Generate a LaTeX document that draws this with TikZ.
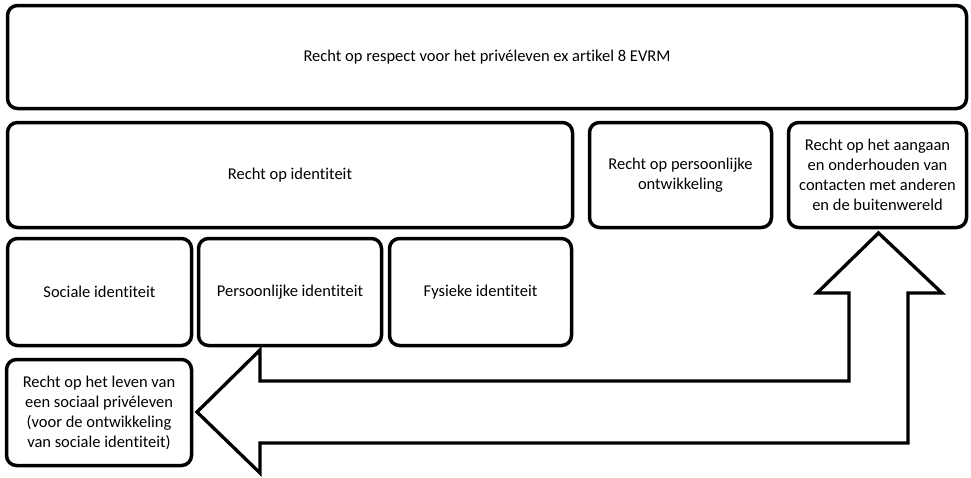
\documentclass[tikz,border=0pt]{standalone}
\usepackage{fontspec}
\setmainfont{Carlito}[Ligatures=CommonOff]
\begin{document}
\begin{tikzpicture}[x=1pt,y=-1pt,
  box/.style={draw, line width=3.5pt, rounded corners=10pt, fill=white,
    align=center, inner sep=0pt, font=\fontsize{16.5}{20}\selectfont},
  blockarrow/.style={draw, line width=3.3pt, fill=white, line join=miter}]
\useasboundingbox (0,0) rectangle (971,477);

% top level right
\node[box, minimum width=959pt, minimum height=103pt] (evrm) at (487,57)
  {Recht op respect voor het privéleven ex artikel 8 EVRM};

% second row
\node[box, minimum width=565pt, minimum height=105pt] (ident) at (290,175)
  {Recht op identiteit};
\node[box, minimum width=182pt, minimum height=105pt] (ontw) at (680.5,175)
  {Recht op persoonlijke\\ontwikkeling};
\node[box, minimum width=178pt, minimum height=105pt] (cont) at (877.5,175)
  {Recht op het aangaan\\en onderhouden van\\contacten met anderen\\en de buitenwereld};

% third row
\node[box, minimum width=184pt, minimum height=107pt] (soc) at (99.5,292)
  {Sociale identiteit};
\node[box, minimum width=183pt, minimum height=107pt] (pers) at (290,292)
  {Persoonlijke identiteit};
\node[box, minimum width=182pt, minimum height=107pt] (fys) at (480.5,292)
  {Fysieke identiteit};

% bottom
\node[box, minimum width=185pt, minimum height=106pt] (priv) at (99,412.5)
  {Recht op het leven van\\een sociaal privéleven\\(voor de ontwikkeling\\van sociale identiteit)};

% double-headed U-shaped block arrow
\draw[blockarrow] (197,412) -- (260,350) -- (260,381) -- (849,381) -- (849,293)
  -- (817,293) -- (878.5,233) -- (942,293) -- (908,293) -- (908,443)
  -- (260,443) -- (260,473) -- cycle;
\end{tikzpicture}
\end{document}
